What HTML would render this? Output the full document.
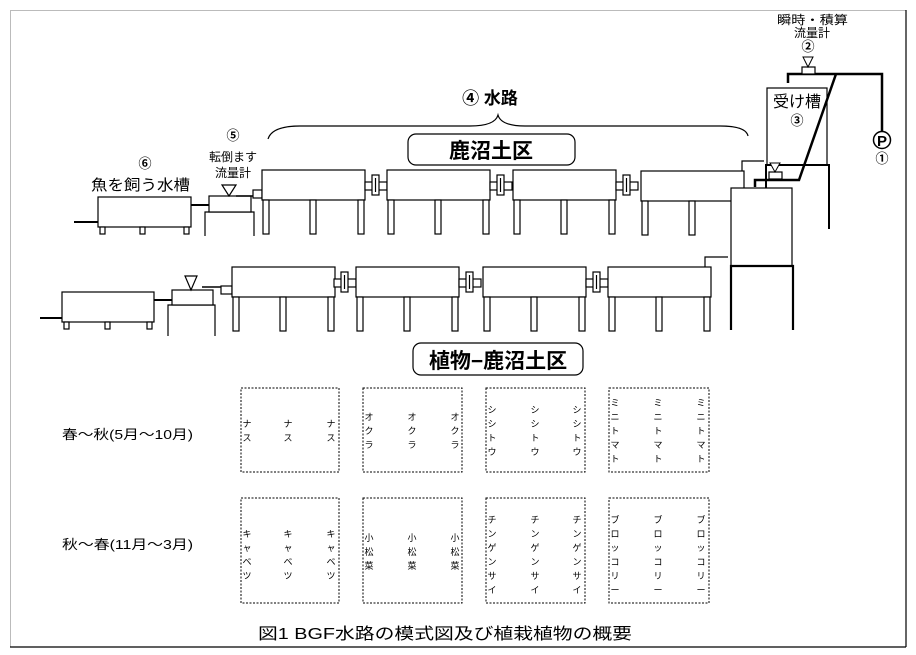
<!DOCTYPE html>
<html><head><meta charset="utf-8"><style>
html,body{margin:0;padding:0;background:#fff}
svg{display:block}
text{font-family:"Liberation Sans","Noto Sans CJK JP",sans-serif;fill:#000}
</style></head><body>
<svg width="916" height="655" viewBox="0 0 916 655" xmlns="http://www.w3.org/2000/svg">
<defs>
<g id="ch" fill="#fff" stroke="#000" stroke-width="1.2">
<rect x="0" y="0" width="103" height="30"/>
<rect x="1" y="30" width="6" height="34"/>
<rect x="48" y="30" width="6" height="34"/>
<rect x="96" y="30" width="6" height="34"/>
</g>
<g id="cp" fill="#fff" stroke="#000" stroke-width="1.2">
<rect x="0" y="12" width="22" height="8"/>
<rect x="7" y="5" width="7" height="20"/>
<line x1="10.5" y1="8" x2="10.5" y2="22"/>
</g>
</defs>
<!-- frame -->
<line x1="10" y1="10.5" x2="906" y2="10.5" stroke="#bbb" stroke-width="1"/>
<line x1="10.5" y1="10" x2="10.5" y2="647" stroke="#bbb" stroke-width="1"/>
<line x1="906" y1="10" x2="906" y2="647" stroke="#000" stroke-width="1.2"/>
<line x1="10" y1="647" x2="906" y2="647" stroke="#000" stroke-width="1.2"/>

<!-- top row -->
<text x="145" y="168" font-size="13" font-weight="bold" text-anchor="middle">⑥</text>
<text x="91" y="190" font-size="15" textLength="99" lengthAdjust="spacingAndGlyphs">魚を飼う水槽</text>
<line x1="74" y1="222" x2="98" y2="222" stroke="#000" stroke-width="2"/>
<rect x="98" y="197" width="93" height="30" fill="#fff" stroke="#000" stroke-width="1.2"/>
<g fill="#fff" stroke="#000" stroke-width="1.2">
<rect x="100" y="227" width="5" height="7"/><rect x="140" y="227" width="5" height="7"/><rect x="184" y="227" width="5" height="7"/>
</g>
<line x1="191" y1="205" x2="211" y2="205" stroke="#000" stroke-width="2"/>
<text x="233" y="140" font-size="13" font-weight="bold" text-anchor="middle">⑤</text>
<text x="233" y="161" font-size="12" text-anchor="middle">転倒ます</text>
<text x="233" y="177" font-size="12" text-anchor="middle">流量計</text>
<polyline points="205,236 205,212 254,212 254,236" fill="none" stroke="#000" stroke-width="1.2"/>
<rect x="209" y="196" width="42" height="16" fill="#fff" stroke="#000" stroke-width="1.2"/>
<polygon points="222,185 236,185 229,196" fill="#fff" stroke="#000" stroke-width="1.2"/>
<line x1="236" y1="196" x2="253" y2="196" stroke="#000" stroke-width="1.5"/>
<rect x="253" y="190" width="9" height="8" fill="#fff" stroke="#000" stroke-width="1.2"/>
<use href="#ch" x="262" y="170"/>
<use href="#cp" x="365" y="170"/>
<use href="#ch" x="387" y="170"/>
<use href="#cp" x="490" y="170"/>
<use href="#ch" x="513" y="170"/>
<use href="#cp" x="616" y="170"/>
<use href="#ch" x="641" y="171"/>
<polyline points="742,171 742,161 764,161" fill="none" stroke="#000" stroke-width="1.2"/>

<!-- brace & labels -->
<path d="M268,139 Q272,126 300,126 L470,126 Q495,126 498,115 Q501,126 525,126 L720,126 Q746,126 748,136" fill="none" stroke="#000" stroke-width="1.2"/>
<text x="490" y="104" font-size="17" font-weight="bold" text-anchor="middle">④ 水路</text>
<rect x="408" y="134" width="167" height="31" rx="8" fill="#fff" stroke="#000" stroke-width="1.2"/>
<text x="491" y="158" font-size="21" font-weight="bold" text-anchor="middle">鹿沼土区</text>

<!-- right side -->
<rect x="767" y="88" width="60" height="77" fill="#fff" stroke="#000" stroke-width="1.2"/>
<text x="797" y="107" font-size="16" text-anchor="middle">受け槽</text>
<text x="797" y="125" font-size="13" font-weight="bold" text-anchor="middle">③</text>
<polyline points="766,188 766,165 829,165 829,229" fill="none" stroke="#000" stroke-width="2"/>
<rect x="731" y="188" width="61" height="78" fill="#fff" stroke="#000" stroke-width="1.2"/>
<polyline points="731,330 731,266 793,266 793,330" fill="none" stroke="#000" stroke-width="2.2"/>
<polyline points="788,83 788,74 882,74 882,132" fill="none" stroke="#000" stroke-width="2.5"/>
<polyline points="836,74 799,180 755,180 755,187" fill="none" stroke="#000" stroke-width="2.5"/>
<rect x="769" y="172" width="13" height="7" fill="#fff" stroke="#000" stroke-width="1.2"/>
<polygon points="770,163 780,163 775,172" fill="#fff" stroke="#000" stroke-width="1"/>
<rect x="802" y="67" width="13" height="7" fill="#fff" stroke="#000" stroke-width="1.2"/>
<polygon points="803,57 813,57 808,67" fill="#fff" stroke="#000" stroke-width="1"/>
<text x="777" y="24" font-size="12" textLength="71" lengthAdjust="spacingAndGlyphs">瞬時・積算</text>
<text x="812" y="37" font-size="12" text-anchor="middle">流量計</text>
<text x="808" y="51" font-size="13" font-weight="bold" text-anchor="middle">②</text>
<circle cx="882" cy="140" r="8.5" fill="#fff" stroke="#000" stroke-width="1.5"/>
<text x="882" y="146" font-size="15" font-weight="bold" text-anchor="middle">P</text>
<text x="882" y="163" font-size="13" font-weight="bold" text-anchor="middle">①</text>

<!-- bottom row -->
<line x1="40" y1="318" x2="62" y2="318" stroke="#000" stroke-width="2"/>
<rect x="62" y="292" width="92" height="30" fill="#fff" stroke="#000" stroke-width="1.2"/>
<g fill="#fff" stroke="#000" stroke-width="1.2">
<rect x="64" y="322" width="5" height="7"/><rect x="105" y="322" width="5" height="7"/><rect x="147" y="322" width="5" height="7"/>
</g>
<line x1="154" y1="300" x2="172" y2="300" stroke="#000" stroke-width="2"/>
<polyline points="168,336 168,305 215,305 215,336" fill="none" stroke="#000" stroke-width="1.2"/>
<rect x="172" y="290" width="41" height="15" fill="#fff" stroke="#000" stroke-width="1.2"/>
<polygon points="185,276 197,276 191,290" fill="#fff" stroke="#000" stroke-width="1.2"/>
<line x1="202" y1="287" x2="221" y2="287" stroke="#000" stroke-width="1.5"/>
<rect x="221" y="286" width="11" height="8" fill="#fff" stroke="#000" stroke-width="1.2"/>
<use href="#ch" x="232" y="267"/>
<use href="#cp" x="334" y="267"/>
<use href="#ch" x="356" y="267"/>
<use href="#cp" x="459" y="267"/>
<use href="#ch" x="483" y="267"/>
<use href="#cp" x="586" y="267"/>
<use href="#ch" x="608" y="267"/>
<polyline points="705,267 705,257 728,257" fill="none" stroke="#000" stroke-width="1.2"/>

<rect x="413" y="343" width="170" height="32" rx="8" fill="#fff" stroke="#000" stroke-width="1.2"/>
<text x="498" y="368" font-size="21" font-weight="bold" text-anchor="middle">植物−鹿沼土区</text>

<text x="62" y="439" font-size="13" textLength="131" lengthAdjust="spacingAndGlyphs">春～秋(5月～10月)</text>
<text x="62" y="549" font-size="13" textLength="131" lengthAdjust="spacingAndGlyphs">秋～春(11月～3月)</text>

<g fill="none" stroke="#000" stroke-width="1" stroke-dasharray="2,1.5">
<rect x="241" y="388" width="98" height="84"/>
<rect x="363" y="388" width="99" height="84"/>
<rect x="486" y="388" width="99" height="84"/>
<rect x="609" y="388" width="100" height="84"/>
<rect x="241" y="498" width="98" height="105"/>
<rect x="363" y="498" width="99" height="105"/>
<rect x="486" y="498" width="99" height="105"/>
<rect x="609" y="498" width="100" height="105"/>
</g>

<g font-size="9" text-anchor="middle">
<text y="427"><tspan x="247">ナ</tspan><tspan x="247" dy="14">ス</tspan></text>
<text y="427"><tspan x="288">ナ</tspan><tspan x="288" dy="14">ス</tspan></text>
<text y="427"><tspan x="331">ナ</tspan><tspan x="331" dy="14">ス</tspan></text>
<text y="420"><tspan x="369">オ</tspan><tspan x="369" dy="14">ク</tspan><tspan x="369" dy="14">ラ</tspan></text>
<text y="420"><tspan x="412">オ</tspan><tspan x="412" dy="14">ク</tspan><tspan x="412" dy="14">ラ</tspan></text>
<text y="420"><tspan x="455">オ</tspan><tspan x="455" dy="14">ク</tspan><tspan x="455" dy="14">ラ</tspan></text>
<text y="413"><tspan x="492">シ</tspan><tspan x="492" dy="14">シ</tspan><tspan x="492" dy="14">ト</tspan><tspan x="492" dy="14">ウ</tspan></text>
<text y="413"><tspan x="535">シ</tspan><tspan x="535" dy="14">シ</tspan><tspan x="535" dy="14">ト</tspan><tspan x="535" dy="14">ウ</tspan></text>
<text y="413"><tspan x="577">シ</tspan><tspan x="577" dy="14">シ</tspan><tspan x="577" dy="14">ト</tspan><tspan x="577" dy="14">ウ</tspan></text>
<text y="406"><tspan x="615">ミ</tspan><tspan x="615" dy="14">ニ</tspan><tspan x="615" dy="14">ト</tspan><tspan x="615" dy="14">マ</tspan><tspan x="615" dy="14">ト</tspan></text>
<text y="406"><tspan x="658">ミ</tspan><tspan x="658" dy="14">ニ</tspan><tspan x="658" dy="14">ト</tspan><tspan x="658" dy="14">マ</tspan><tspan x="658" dy="14">ト</tspan></text>
<text y="406"><tspan x="701">ミ</tspan><tspan x="701" dy="14">ニ</tspan><tspan x="701" dy="14">ト</tspan><tspan x="701" dy="14">マ</tspan><tspan x="701" dy="14">ト</tspan></text>
<text y="537"><tspan x="247">キ</tspan><tspan x="247" dy="14">ャ</tspan><tspan x="247" dy="14">ベ</tspan><tspan x="247" dy="14">ツ</tspan></text>
<text y="537"><tspan x="288">キ</tspan><tspan x="288" dy="14">ャ</tspan><tspan x="288" dy="14">ベ</tspan><tspan x="288" dy="14">ツ</tspan></text>
<text y="537"><tspan x="331">キ</tspan><tspan x="331" dy="14">ャ</tspan><tspan x="331" dy="14">ベ</tspan><tspan x="331" dy="14">ツ</tspan></text>
<text y="541"><tspan x="369">小</tspan><tspan x="369" dy="14">松</tspan><tspan x="369" dy="14">菜</tspan></text>
<text y="541"><tspan x="412">小</tspan><tspan x="412" dy="14">松</tspan><tspan x="412" dy="14">菜</tspan></text>
<text y="541"><tspan x="455">小</tspan><tspan x="455" dy="14">松</tspan><tspan x="455" dy="14">菜</tspan></text>
<text y="523"><tspan x="492">チ</tspan><tspan x="492" dy="14">ン</tspan><tspan x="492" dy="14">ゲ</tspan><tspan x="492" dy="14">ン</tspan><tspan x="492" dy="14">サ</tspan><tspan x="492" dy="14">イ</tspan></text>
<text y="523"><tspan x="535">チ</tspan><tspan x="535" dy="14">ン</tspan><tspan x="535" dy="14">ゲ</tspan><tspan x="535" dy="14">ン</tspan><tspan x="535" dy="14">サ</tspan><tspan x="535" dy="14">イ</tspan></text>
<text y="523"><tspan x="577">チ</tspan><tspan x="577" dy="14">ン</tspan><tspan x="577" dy="14">ゲ</tspan><tspan x="577" dy="14">ン</tspan><tspan x="577" dy="14">サ</tspan><tspan x="577" dy="14">イ</tspan></text>
<text y="523"><tspan x="615">ブ</tspan><tspan x="615" dy="14">ロ</tspan><tspan x="615" dy="14">ッ</tspan><tspan x="615" dy="14">コ</tspan><tspan x="615" dy="14">リ</tspan><tspan x="615" dy="14">ー</tspan></text>
<text y="523"><tspan x="658">ブ</tspan><tspan x="658" dy="14">ロ</tspan><tspan x="658" dy="14">ッ</tspan><tspan x="658" dy="14">コ</tspan><tspan x="658" dy="14">リ</tspan><tspan x="658" dy="14">ー</tspan></text>
<text y="523"><tspan x="701">ブ</tspan><tspan x="701" dy="14">ロ</tspan><tspan x="701" dy="14">ッ</tspan><tspan x="701" dy="14">コ</tspan><tspan x="701" dy="14">リ</tspan><tspan x="701" dy="14">ー</tspan></text>
</g>

<text x="258" y="639" font-size="16" textLength="374" lengthAdjust="spacingAndGlyphs">図1  BGF水路の模式図及び植栽植物の概要</text>
</svg>
</body></html>
